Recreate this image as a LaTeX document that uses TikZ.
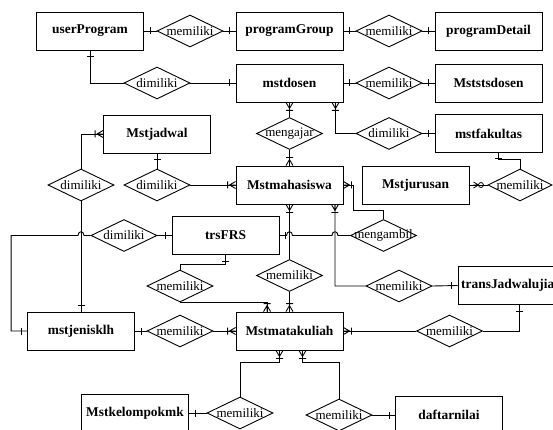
\documentclass[tikz,border=0pt]{standalone}
\usepackage{fontspec}
\setmainfont{Liberation Serif}
\usetikzlibrary{shapes.geometric,calc}
\begin{document}
\begin{tikzpicture}[x=1pt,y=-1pt,
  ent/.style={draw,line width=0.9pt,minimum width=107pt,minimum height=38pt,inner sep=0pt,font=\fontsize{13.4}{15}\selectfont\bfseries},
  dia/.style={draw,diamond,line width=0.9pt,minimum width=66pt,minimum height=32pt,inner sep=0pt,font=\fontsize{13}{15}\selectfont},
  ln/.style={line width=0.9pt},
  one/.pic={\draw[line width=0.9pt] (6,-3.5)--(6,3.5);},
  many/.pic={\draw[line width=0.9pt] (0,-3.5)--(6,0)--(0,3.5) (0,0)--(6,0) (8,-3.5)--(8,3.5);},
  zmany/.pic={\draw[line width=0.8pt] (4,-3)--(9,0)--(4,3) (4,0)--(9,0); \draw[line width=0.8pt] (11.5,0) circle[radius=2.5];}
]
\useasboundingbox (0,0) rectangle (553,430);
\fill[white] (0,0) rectangle (553,430);
\clip (0,0) rectangle (553,430);

% entities
\node[ent] (up)  at (90,31)      {userProgram};
\node[ent] (pg)  at (289.5,31)   {programGroup};
\node[ent] (pd)  at (488.5,31)   {programDetail};
\node[ent] (md)  at (289.5,83)   {mstdosen};
\node[ent] (msd) at (488.5,83)   {Mststsdosen};
\node[ent] (mj)  at (157,134)    {Mstjadwal};
\node[ent] (mf)  at (488.5,133.5){mstfakultas};
\node[ent] (mhs) at (289.5,185)  {Mstmahasiswa};
\node[ent] (mju) at (415.5,185)  {Mstjurusan};
\node[ent] (trs) at (225.5,235.5){trsFRS};
\node[ent] (tju) at (511.5,285.5){transJadwalujian};
\node[ent] (mmk) at (289.5,331)  {Mstmatakuliah};
\node[ent] (mjk) at (81,331)     {mstjenisklh};
\node[ent] (mkk) at (135,413)    {Mstkelompokmk};
\node[ent] (dn)  at (449,415)    {daftarnilai};

% relationships
\node[dia] (d1)  at (190,31)     {\makebox[0pt]{memiliki}};
\node[dia] (d2)  at (389,31)     {\makebox[0pt]{memiliki}};
\node[dia] (d3)  at (157,83)     {\makebox[0pt]{dimiliki}};
\node[dia] (d4)  at (389,83)     {\makebox[0pt]{memiliki}};
\node[dia] (d5)  at (289.5,133.5){\makebox[0pt]{mengajar}};
\node[dia] (d6)  at (389,133.5)  {\makebox[0pt]{dimiliki}};
\node[dia] (d7)  at (81,185)     {\makebox[0pt]{dimiliki}};
\node[dia] (d8)  at (157,185)    {\makebox[0pt]{dimiliki}};
\node[dia,minimum width=64pt] (d9) at (520,185) {\makebox[0pt]{memiliki}};
\node[dia] (d10) at (124,235.5)  {\makebox[0pt]{dimiliki}};
\node[dia] (d11) at (383.5,235.5){\makebox[0pt]{mengambil}};
\node[dia] (d12) at (289.5,275.5){\makebox[0pt]{memiliki}};
\node[dia] (d13) at (180,286)    {\makebox[0pt]{memiliki}};
\node[dia] (d14) at (399,286)    {\makebox[0pt]{memiliki}};
\node[dia] (d15) at (180,331)    {\makebox[0pt]{memiliki}};
\node[dia] (d16) at (449.5,331)  {\makebox[0pt]{memiliki}};
\node[dia] (d17) at (240,413)    {\makebox[0pt]{memiliki}};
\node[dia] (d18) at (339,415)    {\makebox[0pt]{memiliki}};

% helper coordinates
\coordinate (mdb) at ($(md.south east)+(-8,0)$);
\coordinate (mfb) at ($(mf.south)+(10,0)$);
\coordinate (mb2) at ($(mhs.south east)+(-8.5,0)$);
\coordinate (mt1) at ($(mmk.north west)+(31.5,0)$);
\coordinate (tb)  at ($(tju.south west)+(62,0)$);
\coordinate (mb3) at ($(mmk.south)+(-10,0)$);
\coordinate (mb4) at ($(mmk.south)+(13,0)$);
\coordinate (h1) at (d7.south |- d10.west);
\coordinate (h2) at (mhs.south |- trs.east);
\coordinate (h3) at (mb2 |- trs.east);

% connectors
\draw[ln] (up.east) -- (d1.west) (d1.east) -- (pg.west);
\draw[ln] (pg.east) -- (d2.west) (d2.east) -- (pd.west);
\draw[ln] (up.south) |- (d3.west) (d3.east) -- (md.west);
\draw[ln] (md.east) -- (d4.west) (d4.east) -- (msd.west);
\draw[ln] (md.south) -- (d5.north) (d5.south) -- (mhs.north);
\draw[ln] (mdb) |- (d6.west) (d6.east) -- (mf.west);
\draw[ln] (mfb) -- ++(0,7) -| (d9.north);
\draw[ln] (d9.west) -- (mju.east);
\draw[ln] (d7.north) |- (mj.west);
\draw[ln] (d7.south) -- (mjk.north);
\draw[ln] (mj.south) -- (d8.north) (d8.east) -- (mhs.west);
\draw[ln] (mjk.west) -- ++(-16,0) |- ($(h1)+(-3,0)$) .. controls ($(h1)+(-3,-5)$) and ($(h1)+(3,-5)$) .. ($(h1)+(3,0)$) -- (d10.west);
\draw[ln] (d10.east) -- (trs.west);
\draw[ln] (trs.east) -- ($(h2)+(-3,0)$) .. controls ($(h2)+(-3,-5)$) and ($(h2)+(3,-5)$) .. ($(h2)+(3,0)$)
  -- ($(h3)+(-3,0)$) .. controls ($(h3)+(-3,-5)$) and ($(h3)+(3,-5)$) .. ($(h3)+(3,0)$) -- (d11.west);
\draw[ln] (d11.north) -- ++(0,-9) -| ($(mhs.east)+(10,0)$) -- (mhs.east);
\draw[ln] (mhs.south) -- (d12.north) (d12.south) -- (mmk.north);
\draw[ln] (trs.south) -- ++(0,9) -| (d13.north);
\draw[ln] (d13.south) -| (mt1);
\draw[ln] (mb2) |- (d14.west) (d14.east) -- (tju.west);
\draw[ln] (tb) |- (d16.east) (d16.west) -- (mmk.east);
\draw[ln] (mjk.east) -- (d15.west) (d15.east) -- (mmk.west);
\draw[ln] (mb3) -- ++(0,12) -| (d17.north) (d17.west) -- (mkk.east);
\draw[ln] (mb4) -- ++(0,12) -| (d18.north) (d18.east) -- (dn.west);

% one markers
\pic at (up.east) {one};
\pic[rotate=180] at (pg.west) {one};
\pic at (pg.east) {one};
\pic[rotate=180] at (pd.west) {one};
\pic[rotate=-90] at (up.south) {one};
\pic[rotate=180] at (md.west) {one};
\pic at (md.east) {one};
\pic[rotate=180] at (msd.west) {one};
\pic[rotate=180] at (mf.west) {one};
\pic[rotate=-90] at (mfb) {one};
\pic[rotate=-90] at (mj.south) {one};
\pic[rotate=90] at (mjk.north) {one};
\pic[rotate=180] at (mjk.west) {one};
\pic[rotate=180] at (trs.west) {one};
\pic at (trs.east) {one};
\pic[rotate=-90] at (trs.south) {one};
\pic[rotate=180] at (tju.west) {one};
\pic[rotate=-90] at (tb) {one};
\pic at (mjk.east) {one};
\pic at (mkk.east) {one};
\pic[rotate=180] at (dn.west) {one};

% many markers
\pic[rotate=-90] at (md.south) {many};
\pic[rotate=-90] at (mdb) {many};
\pic[rotate=90] at (mhs.north) {many};
\pic[rotate=180] at (mj.west) {many};
\pic[rotate=180] at (mhs.west) {many};
\pic at (mhs.east) {many};
\pic[rotate=-90] at (mhs.south) {many};
\pic[rotate=-90] at (mb2) {many};
\pic[rotate=90] at (mmk.north) {many};
\pic[rotate=90] at (mt1) {many};
\pic[rotate=180] at (mmk.west) {many};
\pic at (mmk.east) {many};
\pic[rotate=-90] at (mb3) {many};
\pic[rotate=-90] at (mb4) {many};
\pic at (mju.east) {zmany};
\end{tikzpicture}
\end{document}
